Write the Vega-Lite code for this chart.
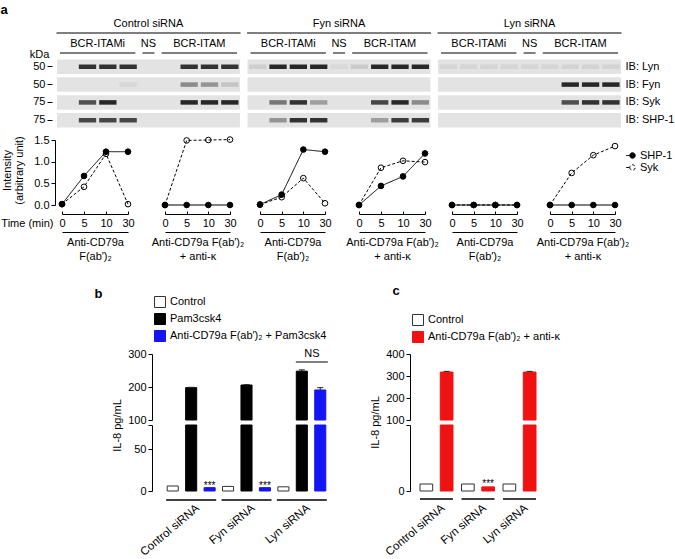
{
  "$schema": "https://vega.github.io/schema/vega-lite/v6.json",
  "width": 675,
  "height": 559,
  "autosize": {"type": "none"},
  "padding": 0,
  "background": "white",
  "config": {
    "font": "Liberation Sans",
    "view": {"stroke": null},
    "axis": {"labelFontSize": 11, "titleFontSize": 11, "titleFontWeight": "normal", "labelColor": "black", "titleColor": "black", "domainColor": "black", "tickColor": "black", "grid": false, "labelOverlap": false},
    "legend": {"labelFontSize": 11, "labelColor": "black", "padding": 0},
    "text": {"fontSize": 11, "color": "black"}
  },
  "datasets": {
    "blot": [
      {"si": "Control siRNA", "row": "Lyn"}, {"si": "Control siRNA", "row": "Fyn"}, {"si": "Control siRNA", "row": "Syk"}, {"si": "Control siRNA", "row": "SHP-1"},
      {"si": "Fyn siRNA", "row": "Lyn"}, {"si": "Fyn siRNA", "row": "Fyn"}, {"si": "Fyn siRNA", "row": "Syk"}, {"si": "Fyn siRNA", "row": "SHP-1"},
      {"si": "Lyn siRNA", "row": "Lyn"}, {"si": "Lyn siRNA", "row": "Fyn"}, {"si": "Lyn siRNA", "row": "Syk"}, {"si": "Lyn siRNA", "row": "SHP-1"}
    ],
    "lanes": [
      {"si": "Control siRNA", "lane": 0, "stim": "BCR-ITAMi"}, {"si": "Control siRNA", "lane": 1, "stim": "BCR-ITAMi"}, {"si": "Control siRNA", "lane": 2, "stim": "BCR-ITAMi"}, {"si": "Control siRNA", "lane": 3, "stim": "BCR-ITAMi"}, {"si": "Control siRNA", "lane": 4, "stim": "NS"}, {"si": "Control siRNA", "lane": 5, "stim": "BCR-ITAM"}, {"si": "Control siRNA", "lane": 6, "stim": "BCR-ITAM"}, {"si": "Control siRNA", "lane": 7, "stim": "BCR-ITAM"}, {"si": "Control siRNA", "lane": 8, "stim": "BCR-ITAM"},
      {"si": "Fyn siRNA", "lane": 0, "stim": "BCR-ITAMi"}, {"si": "Fyn siRNA", "lane": 1, "stim": "BCR-ITAMi"}, {"si": "Fyn siRNA", "lane": 2, "stim": "BCR-ITAMi"}, {"si": "Fyn siRNA", "lane": 3, "stim": "BCR-ITAMi"}, {"si": "Fyn siRNA", "lane": 4, "stim": "NS"}, {"si": "Fyn siRNA", "lane": 5, "stim": "BCR-ITAM"}, {"si": "Fyn siRNA", "lane": 6, "stim": "BCR-ITAM"}, {"si": "Fyn siRNA", "lane": 7, "stim": "BCR-ITAM"}, {"si": "Fyn siRNA", "lane": 8, "stim": "BCR-ITAM"},
      {"si": "Lyn siRNA", "lane": 0, "stim": "BCR-ITAMi"}, {"si": "Lyn siRNA", "lane": 1, "stim": "BCR-ITAMi"}, {"si": "Lyn siRNA", "lane": 2, "stim": "BCR-ITAMi"}, {"si": "Lyn siRNA", "lane": 3, "stim": "BCR-ITAMi"}, {"si": "Lyn siRNA", "lane": 4, "stim": "NS"}, {"si": "Lyn siRNA", "lane": 5, "stim": "BCR-ITAM"}, {"si": "Lyn siRNA", "lane": 6, "stim": "BCR-ITAM"}, {"si": "Lyn siRNA", "lane": 7, "stim": "BCR-ITAM"}, {"si": "Lyn siRNA", "lane": 8, "stim": "BCR-ITAM"}
    ],
    "bands": [
      {"si": "Control siRNA", "row": "Lyn", "lane": 1, "v": 0.9}, {"si": "Control siRNA", "row": "Lyn", "lane": 2, "v": 0.9}, {"si": "Control siRNA", "row": "Lyn", "lane": 3, "v": 0.9}, {"si": "Control siRNA", "row": "Lyn", "lane": 6, "v": 0.9}, {"si": "Control siRNA", "row": "Lyn", "lane": 7, "v": 0.9}, {"si": "Control siRNA", "row": "Lyn", "lane": 8, "v": 0.9},
      {"si": "Control siRNA", "row": "Fyn", "lane": 3, "v": 0.06}, {"si": "Control siRNA", "row": "Fyn", "lane": 6, "v": 0.45}, {"si": "Control siRNA", "row": "Fyn", "lane": 7, "v": 0.4}, {"si": "Control siRNA", "row": "Fyn", "lane": 8, "v": 0.15},
      {"si": "Control siRNA", "row": "Syk", "lane": 1, "v": 0.75}, {"si": "Control siRNA", "row": "Syk", "lane": 2, "v": 0.95}, {"si": "Control siRNA", "row": "Syk", "lane": 6, "v": 0.95}, {"si": "Control siRNA", "row": "Syk", "lane": 7, "v": 0.95}, {"si": "Control siRNA", "row": "Syk", "lane": 8, "v": 0.95},
      {"si": "Control siRNA", "row": "SHP-1", "lane": 1, "v": 0.8}, {"si": "Control siRNA", "row": "SHP-1", "lane": 2, "v": 0.8}, {"si": "Control siRNA", "row": "SHP-1", "lane": 3, "v": 0.8},
      {"si": "Fyn siRNA", "row": "Lyn", "lane": 0, "v": 0.1}, {"si": "Fyn siRNA", "row": "Lyn", "lane": 1, "v": 0.95}, {"si": "Fyn siRNA", "row": "Lyn", "lane": 2, "v": 0.95}, {"si": "Fyn siRNA", "row": "Lyn", "lane": 3, "v": 0.95}, {"si": "Fyn siRNA", "row": "Lyn", "lane": 4, "v": 0.05}, {"si": "Fyn siRNA", "row": "Lyn", "lane": 5, "v": 0.12}, {"si": "Fyn siRNA", "row": "Lyn", "lane": 6, "v": 0.95}, {"si": "Fyn siRNA", "row": "Lyn", "lane": 7, "v": 0.95}, {"si": "Fyn siRNA", "row": "Lyn", "lane": 8, "v": 0.95},
      {"si": "Fyn siRNA", "row": "Syk", "lane": 1, "v": 0.55}, {"si": "Fyn siRNA", "row": "Syk", "lane": 2, "v": 0.9}, {"si": "Fyn siRNA", "row": "Syk", "lane": 3, "v": 0.35}, {"si": "Fyn siRNA", "row": "Syk", "lane": 6, "v": 0.8}, {"si": "Fyn siRNA", "row": "Syk", "lane": 7, "v": 0.95}, {"si": "Fyn siRNA", "row": "Syk", "lane": 8, "v": 0.45},
      {"si": "Fyn siRNA", "row": "SHP-1", "lane": 1, "v": 0.4}, {"si": "Fyn siRNA", "row": "SHP-1", "lane": 2, "v": 0.9}, {"si": "Fyn siRNA", "row": "SHP-1", "lane": 3, "v": 0.9}, {"si": "Fyn siRNA", "row": "SHP-1", "lane": 6, "v": 0.35}, {"si": "Fyn siRNA", "row": "SHP-1", "lane": 7, "v": 0.85}, {"si": "Fyn siRNA", "row": "SHP-1", "lane": 8, "v": 0.85},
      {"si": "Lyn siRNA", "row": "Lyn", "lane": 0, "v": 0.07}, {"si": "Lyn siRNA", "row": "Lyn", "lane": 1, "v": 0.07}, {"si": "Lyn siRNA", "row": "Lyn", "lane": 2, "v": 0.07}, {"si": "Lyn siRNA", "row": "Lyn", "lane": 3, "v": 0.07}, {"si": "Lyn siRNA", "row": "Lyn", "lane": 4, "v": 0.07}, {"si": "Lyn siRNA", "row": "Lyn", "lane": 5, "v": 0.07}, {"si": "Lyn siRNA", "row": "Lyn", "lane": 6, "v": 0.08}, {"si": "Lyn siRNA", "row": "Lyn", "lane": 7, "v": 0.08}, {"si": "Lyn siRNA", "row": "Lyn", "lane": 8, "v": 0.08},
      {"si": "Lyn siRNA", "row": "Fyn", "lane": 6, "v": 0.95}, {"si": "Lyn siRNA", "row": "Fyn", "lane": 7, "v": 0.95}, {"si": "Lyn siRNA", "row": "Fyn", "lane": 8, "v": 0.95},
      {"si": "Lyn siRNA", "row": "Syk", "lane": 6, "v": 0.75}, {"si": "Lyn siRNA", "row": "Syk", "lane": 7, "v": 0.9}, {"si": "Lyn siRNA", "row": "Syk", "lane": 8, "v": 0.9}
    ],
    "lines": [
      {"si": "Control", "stim": "ITAMi", "p": "Syk", "t": 0, "v": 0.02}, {"si": "Control", "stim": "ITAMi", "p": "Syk", "t": 5, "v": 0.42}, {"si": "Control", "stim": "ITAMi", "p": "Syk", "t": 10, "v": 1.18}, {"si": "Control", "stim": "ITAMi", "p": "Syk", "t": 30, "v": 0.02},
      {"si": "Control", "stim": "ITAMi", "p": "SHP-1", "t": 0, "v": 0.02}, {"si": "Control", "stim": "ITAMi", "p": "SHP-1", "t": 5, "v": 0.67}, {"si": "Control", "stim": "ITAMi", "p": "SHP-1", "t": 10, "v": 1.23}, {"si": "Control", "stim": "ITAMi", "p": "SHP-1", "t": 30, "v": 1.23},
      {"si": "Control", "stim": "ITAM", "p": "Syk", "t": 0, "v": 0}, {"si": "Control", "stim": "ITAM", "p": "Syk", "t": 5, "v": 1.49}, {"si": "Control", "stim": "ITAM", "p": "Syk", "t": 10, "v": 1.5}, {"si": "Control", "stim": "ITAM", "p": "Syk", "t": 30, "v": 1.51},
      {"si": "Control", "stim": "ITAM", "p": "SHP-1", "t": 0, "v": 0}, {"si": "Control", "stim": "ITAM", "p": "SHP-1", "t": 5, "v": 0}, {"si": "Control", "stim": "ITAM", "p": "SHP-1", "t": 10, "v": 0}, {"si": "Control", "stim": "ITAM", "p": "SHP-1", "t": 30, "v": 0},
      {"si": "Fyn", "stim": "ITAMi", "p": "Syk", "t": 0, "v": 0.01}, {"si": "Fyn", "stim": "ITAMi", "p": "Syk", "t": 5, "v": 0.18}, {"si": "Fyn", "stim": "ITAMi", "p": "Syk", "t": 10, "v": 0.62}, {"si": "Fyn", "stim": "ITAMi", "p": "Syk", "t": 30, "v": 0.04},
      {"si": "Fyn", "stim": "ITAMi", "p": "SHP-1", "t": 0, "v": 0.01}, {"si": "Fyn", "stim": "ITAMi", "p": "SHP-1", "t": 5, "v": 0.24}, {"si": "Fyn", "stim": "ITAMi", "p": "SHP-1", "t": 10, "v": 1.28}, {"si": "Fyn", "stim": "ITAMi", "p": "SHP-1", "t": 30, "v": 1.23},
      {"si": "Fyn", "stim": "ITAM", "p": "Syk", "t": 0, "v": 0}, {"si": "Fyn", "stim": "ITAM", "p": "Syk", "t": 5, "v": 0.86}, {"si": "Fyn", "stim": "ITAM", "p": "Syk", "t": 10, "v": 1.02}, {"si": "Fyn", "stim": "ITAM", "p": "Syk", "t": 30, "v": 0.99},
      {"si": "Fyn", "stim": "ITAM", "p": "SHP-1", "t": 0, "v": 0}, {"si": "Fyn", "stim": "ITAM", "p": "SHP-1", "t": 5, "v": 0.44}, {"si": "Fyn", "stim": "ITAM", "p": "SHP-1", "t": 10, "v": 0.66}, {"si": "Fyn", "stim": "ITAM", "p": "SHP-1", "t": 30, "v": 1.19},
      {"si": "Lyn", "stim": "ITAMi", "p": "Syk", "t": 0, "v": 0}, {"si": "Lyn", "stim": "ITAMi", "p": "Syk", "t": 5, "v": 0}, {"si": "Lyn", "stim": "ITAMi", "p": "Syk", "t": 10, "v": 0}, {"si": "Lyn", "stim": "ITAMi", "p": "Syk", "t": 30, "v": 0},
      {"si": "Lyn", "stim": "ITAMi", "p": "SHP-1", "t": 0, "v": 0}, {"si": "Lyn", "stim": "ITAMi", "p": "SHP-1", "t": 5, "v": 0}, {"si": "Lyn", "stim": "ITAMi", "p": "SHP-1", "t": 10, "v": 0}, {"si": "Lyn", "stim": "ITAMi", "p": "SHP-1", "t": 30, "v": 0},
      {"si": "Lyn", "stim": "ITAM", "p": "Syk", "t": 0, "v": 0}, {"si": "Lyn", "stim": "ITAM", "p": "Syk", "t": 5, "v": 0.74}, {"si": "Lyn", "stim": "ITAM", "p": "Syk", "t": 10, "v": 1.15}, {"si": "Lyn", "stim": "ITAM", "p": "Syk", "t": 30, "v": 1.36},
      {"si": "Lyn", "stim": "ITAM", "p": "SHP-1", "t": 0, "v": 0}, {"si": "Lyn", "stim": "ITAM", "p": "SHP-1", "t": 5, "v": 0}, {"si": "Lyn", "stim": "ITAM", "p": "SHP-1", "t": 10, "v": 0}, {"si": "Lyn", "stim": "ITAM", "p": "SHP-1", "t": 30, "v": 0}
    ],
    "il8b": [
      {"si": "Control siRNA", "trt": "Control", "v": 6},
      {"si": "Control siRNA", "trt": "Pam3csk4", "v": 198, "hi": 199},
      {"si": "Control siRNA", "trt": "Anti-CD79a F(ab′)₂ + Pam3csk4", "v": 4, "sig": "***"},
      {"si": "Fyn siRNA", "trt": "Control", "v": 5.5},
      {"si": "Fyn siRNA", "trt": "Pam3csk4", "v": 206, "hi": 207},
      {"si": "Fyn siRNA", "trt": "Anti-CD79a F(ab′)₂ + Pam3csk4", "v": 4, "sig": "***"},
      {"si": "Lyn siRNA", "trt": "Control", "v": 5},
      {"si": "Lyn siRNA", "trt": "Pam3csk4", "v": 248, "hi": 252},
      {"si": "Lyn siRNA", "trt": "Anti-CD79a F(ab′)₂ + Pam3csk4", "v": 191, "hi": 198}
    ],
    "il8c": [
      {"si": "Control siRNA", "trt": "Control", "v": 8.5},
      {"si": "Control siRNA", "trt": "Anti-CD79a F(ab′)₂ + anti-κ", "v": 318, "hi": 321},
      {"si": "Fyn siRNA", "trt": "Control", "v": 8.5},
      {"si": "Fyn siRNA", "trt": "Anti-CD79a F(ab′)₂ + anti-κ", "v": 5, "sig": "***"},
      {"si": "Lyn siRNA", "trt": "Control", "v": 8.5},
      {"si": "Lyn siRNA", "trt": "Anti-CD79a F(ab′)₂ + anti-κ", "v": 318, "hi": 321}
    ],
    "groups": [{"si": "Control siRNA"}, {"si": "Fyn siRNA"}, {"si": "Lyn siRNA"}],
    "nsb": [{"si": "Lyn siRNA", "label": "NS"}]
  },
  "layer": [
    {
      "data": {"name": "blot"},
      "mark": {"type": "rect", "fill": "#e3e3e3"},
      "encoding": {
        "x": {"field": "si", "type": "nominal", "scale": {"type": "band", "domain": ["Control siRNA", "Fyn siRNA", "Lyn siRNA"], "range": [57, 621], "paddingInner": 0.04, "paddingOuter": 0},
          "axis": {"orient": "top", "offset": -30, "domain": false, "ticks": false, "labelPadding": 2, "labelAngle": 0, "title": "a", "titleX": 0, "titleY": -17, "titleAlign": "left", "titleBaseline": "alphabetic", "titleAngle": 0, "titleFontWeight": "bold", "titleFontSize": 13}},
        "y": {"field": "row", "type": "nominal", "scale": {"type": "band", "domain": ["Lyn", "Fyn", "Syk", "SHP-1"], "range": [59.5, 127.5], "paddingInner": 0.185, "paddingOuter": 0},
          "axis": {"orient": "left", "offset": -52, "domain": false, "tickSize": 5, "labelPadding": 2, "labelExpr": "datum.label == 'Lyn' || datum.label == 'Fyn' ? '50' : '75'", "title": "kDa", "titleAngle": 0, "titleX": -13, "titleY": 57, "titleAlign": "center", "titleBaseline": "alphabetic"}}
      }
    },
    {
      "data": {"name": "bands"},
      "mark": {"type": "point", "shape": "M-1,-0.26L1,-0.26L1,0.26L-1,0.26Z", "filled": true, "fill": "#1e1e1e", "size": 300, "strokeWidth": 0},
      "encoding": {
        "x": {"field": "si", "type": "nominal", "scale": {"type": "band", "domain": ["Control siRNA", "Fyn siRNA", "Lyn siRNA"], "range": [57, 621], "paddingInner": 0.04, "paddingOuter": 0}, "axis": null},
        "xOffset": {"field": "lane", "type": "quantitative", "scale": {"domain": [-0.5, 8.5], "range": [0, 183]}},
        "y": {"field": "row", "type": "nominal", "scale": {"type": "band", "domain": ["Lyn", "Fyn", "Syk", "SHP-1"], "range": [59.5, 127.5], "paddingInner": 0.185, "paddingOuter": 0},
          "axis": {"orient": "right", "offset": -53, "domain": false, "ticks": false, "labelPadding": 3, "labelExpr": "'IB: ' + datum.label", "title": null}},
        "opacity": {"field": "v", "type": "quantitative", "scale": {"domain": [0, 1], "range": [0, 1]}, "legend": null}
      }
    },
    {
      "data": {"name": "lanes"},
      "mark": {"type": "text", "baseline": "middle", "dy": 1},
      "encoding": {
        "x": {"field": "si", "type": "nominal", "scale": {"type": "band", "domain": ["Control siRNA", "Fyn siRNA", "Lyn siRNA"], "range": [57, 621], "paddingInner": 0.04, "paddingOuter": 0}, "axis": null},
        "xOffset": {"field": "lane", "aggregate": "mean", "type": "quantitative", "scale": {"domain": [-0.5, 8.5], "range": [0, 183]}},
        "y": {"datum": "sub", "type": "nominal", "scale": {"type": "point", "domain": ["title", "titleLine", "sub", "subLine"], "range": [23, 53], "padding": 0}, "axis": null},
        "text": {"field": "stim", "type": "nominal"}
      }
    },
    {
      "data": {"name": "lanes"},
      "mark": {"type": "tick", "orient": "horizontal", "thickness": 1, "color": "black", "opacity": 1},
      "encoding": {
        "x": {"field": "si", "type": "nominal", "scale": {"type": "band", "domain": ["Control siRNA", "Fyn siRNA", "Lyn siRNA"], "range": [57, 621], "paddingInner": 0.04, "paddingOuter": 0}, "axis": null},
        "xOffset": {"field": "lane", "aggregate": "mean", "type": "quantitative", "scale": {"domain": [-0.5, 8.5], "range": [0, 183]}},
        "y": {"datum": "subLine", "type": "nominal", "scale": {"type": "point", "domain": ["title", "titleLine", "sub", "subLine"], "range": [23, 53], "padding": 0}, "axis": null},
        "size": {"aggregate": "count", "type": "quantitative", "scale": {"domain": [1, 9], "range": [12, 181], "zero": false}, "legend": null},
        "detail": {"field": "stim", "type": "nominal"}
      }
    },
    {
      "data": {"name": "lanes"},
      "mark": {"type": "tick", "orient": "horizontal", "thickness": 1, "color": "black", "opacity": 1},
      "encoding": {
        "x": {"field": "si", "type": "nominal", "scale": {"type": "band", "domain": ["Control siRNA", "Fyn siRNA", "Lyn siRNA"], "range": [57, 621], "paddingInner": 0.04, "paddingOuter": 0}, "axis": null},
        "xOffset": {"field": "lane", "aggregate": "mean", "type": "quantitative", "scale": {"domain": [-0.5, 8.5], "range": [0, 183]}},
        "y": {"datum": "titleLine", "type": "nominal", "scale": {"type": "point", "domain": ["title", "titleLine", "sub", "subLine"], "range": [23, 53], "padding": 0}, "axis": null},
        "size": {"aggregate": "count", "type": "quantitative", "scale": {"domain": [1, 9], "range": [12, 184], "zero": false}, "legend": null}
      }
    },
    {
      "data": {"name": "lines"},
      "transform": [{"filter": "datum.si == 'Control' && datum.stim == 'ITAMi'"}],
      "layer": [
        {"mark": {"type": "point", "filled": true, "size": 32, "stroke": "black", "strokeWidth": 1, "opacity": 1},
         "encoding": {
           "x": {"field": "t", "type": "ordinal", "scale": {"type": "point", "domain": [0, 5, 10, 30], "range": [62, 128], "padding": 0}, "axis": {"orient": "bottom", "offset": -345, "tickSize": -3, "labelPadding": 6, "labelAngle": 0, "title": "Time (min)", "titleX": 53, "titleY": 9, "titleAlign": "right", "titleBaseline": "middle", "titleAngle": 0}},
           "y": {"field": "v", "type": "quantitative", "scale": {"domain": [0, 1.5], "range": [205, 140]}, "axis": {"orient": "left", "offset": -55, "values": [0, 0.5, 1, 1.5], "format": ".1f", "tickSize": 4, "labelPadding": 2, "title": ["Intensity", "(arbitrary unit)"], "titleX": -45, "titleY": 170, "titleAngle": -90, "titleAlign": "center", "titleBaseline": "alphabetic", "titleLineHeight": 12}},
           "fill": {"field": "p", "type": "nominal", "scale": {"domain": ["SHP-1", "Syk"], "range": ["black", "white"]}, "legend": null}}},
        {"mark": {"type": "line", "color": "black", "strokeWidth": 1},
         "encoding": {
           "x": {"field": "t", "type": "ordinal", "scale": {"type": "point", "domain": [0, 5, 10, 30], "range": [62, 128], "padding": 0}, "axis": {"orient": "bottom", "offset": -327, "ticks": false, "labels": false, "title": ["Anti-CD79a", "F(ab′)₂"], "titlePadding": 4, "titleLineHeight": 14}},
           "y": {"field": "v", "type": "quantitative", "scale": {"domain": [0, 1.5], "range": [205, 140]}, "axis": null},
           "strokeDash": {"field": "p", "type": "nominal", "scale": {"domain": ["SHP-1", "Syk"], "range": [[1, 0], [3, 2]]}, "legend": null}}}
      ],
      "resolve": {"axis": {"x": "independent", "y": "independent"}}
    },
    {
      "data": {"name": "lines"},
      "transform": [{"filter": "datum.si == 'Control' && datum.stim == 'ITAM'"}],
      "layer": [
        {"mark": {"type": "point", "filled": true, "size": 32, "stroke": "black", "strokeWidth": 1, "opacity": 1},
         "encoding": {
           "x": {"field": "t", "type": "ordinal", "scale": {"type": "point", "domain": [0, 5, 10, 30], "range": [165, 230], "padding": 0}, "axis": {"orient": "bottom", "offset": -345, "tickSize": -3, "labelPadding": 6, "labelAngle": 0, "title": null}},
           "y": {"field": "v", "type": "quantitative", "scale": {"domain": [0, 1.5], "range": [205, 140]}, "axis": null},
           "fill": {"field": "p", "type": "nominal", "scale": {"domain": ["SHP-1", "Syk"], "range": ["black", "white"]}, "legend": null}}},
        {"mark": {"type": "line", "color": "black", "strokeWidth": 1},
         "encoding": {
           "x": {"field": "t", "type": "ordinal", "scale": {"type": "point", "domain": [0, 5, 10, 30], "range": [165, 230], "padding": 0}, "axis": {"orient": "bottom", "offset": -327, "ticks": false, "labels": false, "title": ["Anti-CD79a F(ab′)₂", "+ anti-κ"], "titlePadding": 4, "titleLineHeight": 14}},
           "y": {"field": "v", "type": "quantitative", "scale": {"domain": [0, 1.5], "range": [205, 140]}, "axis": null},
           "strokeDash": {"field": "p", "type": "nominal", "scale": {"domain": ["SHP-1", "Syk"], "range": [[1, 0], [3, 2]]}, "legend": null}}}
      ],
      "resolve": {"axis": {"x": "independent"}}
    },
    {
      "data": {"name": "lines"},
      "transform": [{"filter": "datum.si == 'Fyn' && datum.stim == 'ITAMi'"}],
      "layer": [
        {"mark": {"type": "point", "filled": true, "size": 32, "stroke": "black", "strokeWidth": 1, "opacity": 1},
         "encoding": {
           "x": {"field": "t", "type": "ordinal", "scale": {"type": "point", "domain": [0, 5, 10, 30], "range": [260, 325], "padding": 0}, "axis": {"orient": "bottom", "offset": -345, "tickSize": -3, "labelPadding": 6, "labelAngle": 0, "title": null}},
           "y": {"field": "v", "type": "quantitative", "scale": {"domain": [0, 1.5], "range": [205, 140]}, "axis": null},
           "fill": {"field": "p", "type": "nominal", "scale": {"domain": ["SHP-1", "Syk"], "range": ["black", "white"]}, "legend": null}}},
        {"mark": {"type": "line", "color": "black", "strokeWidth": 1},
         "encoding": {
           "x": {"field": "t", "type": "ordinal", "scale": {"type": "point", "domain": [0, 5, 10, 30], "range": [260, 325], "padding": 0}, "axis": {"orient": "bottom", "offset": -327, "ticks": false, "labels": false, "title": ["Anti-CD79a", "F(ab′)₂"], "titlePadding": 4, "titleLineHeight": 14}},
           "y": {"field": "v", "type": "quantitative", "scale": {"domain": [0, 1.5], "range": [205, 140]}, "axis": null},
           "strokeDash": {"field": "p", "type": "nominal", "scale": {"domain": ["SHP-1", "Syk"], "range": [[1, 0], [3, 2]]}, "legend": null}}}
      ],
      "resolve": {"axis": {"x": "independent"}}
    },
    {
      "data": {"name": "lines"},
      "transform": [{"filter": "datum.si == 'Fyn' && datum.stim == 'ITAM'"}],
      "layer": [
        {"mark": {"type": "point", "filled": true, "size": 32, "stroke": "black", "strokeWidth": 1, "opacity": 1},
         "encoding": {
           "x": {"field": "t", "type": "ordinal", "scale": {"type": "point", "domain": [0, 5, 10, 30], "range": [359, 425], "padding": 0}, "axis": {"orient": "bottom", "offset": -345, "tickSize": -3, "labelPadding": 6, "labelAngle": 0, "title": null}},
           "y": {"field": "v", "type": "quantitative", "scale": {"domain": [0, 1.5], "range": [205, 140]}, "axis": null},
           "fill": {"field": "p", "type": "nominal", "scale": {"domain": ["SHP-1", "Syk"], "range": ["black", "white"]}, "legend": null}}},
        {"mark": {"type": "line", "color": "black", "strokeWidth": 1},
         "encoding": {
           "x": {"field": "t", "type": "ordinal", "scale": {"type": "point", "domain": [0, 5, 10, 30], "range": [359, 425], "padding": 0}, "axis": {"orient": "bottom", "offset": -327, "ticks": false, "labels": false, "title": ["Anti-CD79a F(ab′)₂", "+ anti-κ"], "titlePadding": 4, "titleLineHeight": 14}},
           "y": {"field": "v", "type": "quantitative", "scale": {"domain": [0, 1.5], "range": [205, 140]}, "axis": null},
           "strokeDash": {"field": "p", "type": "nominal", "scale": {"domain": ["SHP-1", "Syk"], "range": [[1, 0], [3, 2]]}, "legend": null}}}
      ],
      "resolve": {"axis": {"x": "independent"}}
    },
    {
      "data": {"name": "lines"},
      "transform": [{"filter": "datum.si == 'Lyn' && datum.stim == 'ITAMi'"}],
      "layer": [
        {"mark": {"type": "point", "filled": true, "size": 32, "stroke": "black", "strokeWidth": 1, "opacity": 1},
         "encoding": {
           "x": {"field": "t", "type": "ordinal", "scale": {"type": "point", "domain": [0, 5, 10, 30], "range": [452, 517], "padding": 0}, "axis": {"orient": "bottom", "offset": -345, "tickSize": -3, "labelPadding": 6, "labelAngle": 0, "title": null}},
           "y": {"field": "v", "type": "quantitative", "scale": {"domain": [0, 1.5], "range": [205, 140]}, "axis": null},
           "fill": {"field": "p", "type": "nominal", "scale": {"domain": ["SHP-1", "Syk"], "range": ["black", "white"]}, "legend": null}}},
        {"mark": {"type": "line", "color": "black", "strokeWidth": 1},
         "encoding": {
           "x": {"field": "t", "type": "ordinal", "scale": {"type": "point", "domain": [0, 5, 10, 30], "range": [452, 517], "padding": 0}, "axis": {"orient": "bottom", "offset": -327, "ticks": false, "labels": false, "title": ["Anti-CD79a", "F(ab′)₂"], "titlePadding": 4, "titleLineHeight": 14}},
           "y": {"field": "v", "type": "quantitative", "scale": {"domain": [0, 1.5], "range": [205, 140]}, "axis": null},
           "strokeDash": {"field": "p", "type": "nominal", "scale": {"domain": ["SHP-1", "Syk"], "range": [[1, 0], [3, 2]]}, "legend": null}}}
      ],
      "resolve": {"axis": {"x": "independent"}}
    },
    {
      "data": {"name": "lines"},
      "transform": [{"filter": "datum.si == 'Lyn' && datum.stim == 'ITAM'"}],
      "layer": [
        {"mark": {"type": "point", "filled": true, "size": 32, "stroke": "black", "strokeWidth": 1, "opacity": 1},
         "encoding": {
           "x": {"field": "t", "type": "ordinal", "scale": {"type": "point", "domain": [0, 5, 10, 30], "range": [550, 615], "padding": 0}, "axis": {"orient": "bottom", "offset": -345, "tickSize": -3, "labelPadding": 6, "labelAngle": 0, "title": null}},
           "y": {"field": "v", "type": "quantitative", "scale": {"domain": [0, 1.5], "range": [205, 140]}, "axis": null},
           "fill": {"field": "p", "type": "nominal", "scale": {"domain": ["SHP-1", "Syk"], "range": ["black", "white"]},
             "legend": {"orient": "none", "legendX": 627, "legendY": 150, "title": null, "symbolType": "M-2.3,0L-1,0M-1,0A1,1,0,1,0,1,0A1,1,0,1,0,-1,0Z", "symbolSize": 30, "symbolStrokeColor": "black", "symbolStrokeWidth": 1, "labelOffset": 2, "rowPadding": 0}}}},
        {"mark": {"type": "line", "color": "black", "strokeWidth": 1},
         "encoding": {
           "x": {"field": "t", "type": "ordinal", "scale": {"type": "point", "domain": [0, 5, 10, 30], "range": [550, 615], "padding": 0}, "axis": {"orient": "bottom", "offset": -327, "ticks": false, "labels": false, "title": ["Anti-CD79a F(ab′)₂", "+ anti-κ"], "titlePadding": 4, "titleLineHeight": 14}},
           "y": {"field": "v", "type": "quantitative", "scale": {"domain": [0, 1.5], "range": [205, 140]}, "axis": null},
           "strokeDash": {"field": "p", "type": "nominal", "scale": {"domain": ["SHP-1", "Syk"], "range": [[1, 0], [3, 2]]}, "legend": null}}}
      ],
      "resolve": {"axis": {"x": "independent"}}
    },
    {
      "layer": [
        {
          "data": {"name": "il8b"},
          "transform": [{"filter": "datum.v > 100"}],
          "mark": {"type": "bar", "strokeWidth": 1},
          "encoding": {
            "x": {"field": "si", "type": "nominal", "scale": {"type": "band", "domain": ["Control siRNA", "Fyn siRNA", "Lyn siRNA"], "range": [166, 327], "paddingInner": 0.09, "paddingOuter": 0}, "axis": null},
            "xOffset": {"field": "trt", "type": "nominal", "scale": {"domain": ["Control", "Pam3csk4", "Anti-CD79a F(ab′)₂ + Pam3csk4"], "paddingInner": 0.4, "paddingOuter": 0.065}},
            "y": {"field": "v", "type": "quantitative", "scale": {"domain": [100, 300], "range": [420, 354], "clamp": true}, "axis": {"orient": "left", "offset": -152, "values": [100, 200, 300], "tickSize": 4, "labelPadding": 2, "title": null}},
            "y2": {"datum": 0},
            "fill": {"field": "trt", "type": "nominal", "scale": {"domain": ["Control", "Pam3csk4", "Anti-CD79a F(ab′)₂ + Pam3csk4"], "range": ["white", "black", "#1414f5"]},
              "legend": {"orient": "none", "legendX": 154, "legendY": 296, "title": null, "symbolType": "square", "symbolSize": 121, "symbolStrokeColor": "#333", "symbolStrokeWidth": 1, "labelOffset": 4, "rowPadding": 1}},
            "stroke": {"field": "trt", "type": "nominal", "scale": {"domain": ["Control", "Pam3csk4", "Anti-CD79a F(ab′)₂ + Pam3csk4"], "range": ["#333", "black", "#1414f5"]}, "legend": null}
          }
        },
        {
          "data": {"name": "il8b"},
          "mark": {"type": "bar", "strokeWidth": 1},
          "encoding": {
            "x": {"field": "si", "type": "nominal", "scale": {"type": "band", "domain": ["Control siRNA", "Fyn siRNA", "Lyn siRNA"], "range": [166, 327], "paddingInner": 0.09, "paddingOuter": 0},
              "axis": {"orient": "top", "offset": 0, "labels": false, "ticks": false, "domain": false, "title": "b", "titleX": 94, "titleY": 297, "titleAlign": "left", "titleBaseline": "alphabetic", "titleAngle": 0, "titleFontWeight": "bold", "titleFontSize": 13}},
            "xOffset": {"field": "trt", "type": "nominal", "scale": {"domain": ["Control", "Pam3csk4", "Anti-CD79a F(ab′)₂ + Pam3csk4"], "paddingInner": 0.4, "paddingOuter": 0.065}},
            "y": {"field": "v", "type": "quantitative", "scale": {"domain": [0, 79], "range": [491, 425], "clamp": true}, "axis": {"orient": "left", "offset": -152, "values": [0, 50, 79], "labelExpr": "datum.value == 79 ? '' : datum.label", "tickSize": 4, "labelPadding": 2, "title": "IL-8 pg/mL", "titleX": -32, "titleY": 425, "titleAngle": -90, "titleAlign": "center", "titleBaseline": "alphabetic"}},
            "fill": {"field": "trt", "type": "nominal", "scale": {"domain": ["Control", "Pam3csk4", "Anti-CD79a F(ab′)₂ + Pam3csk4"], "range": ["white", "black", "#1414f5"]}, "legend": null},
            "stroke": {"field": "trt", "type": "nominal", "scale": {"domain": ["Control", "Pam3csk4", "Anti-CD79a F(ab′)₂ + Pam3csk4"], "range": ["#333", "black", "#0a0ab0"]}, "legend": null}
          }
        },
        {
          "data": {"name": "il8b"},
          "transform": [{"filter": "datum.hi"}],
          "mark": {"type": "rule", "color": "#222", "strokeWidth": 1},
          "encoding": {
            "x": {"field": "si", "type": "nominal", "scale": {"type": "band", "domain": ["Control siRNA", "Fyn siRNA", "Lyn siRNA"], "range": [166, 327], "paddingInner": 0.09, "paddingOuter": 0}, "axis": null},
            "xOffset": {"field": "trt", "type": "nominal", "scale": {"domain": ["Control", "Pam3csk4", "Anti-CD79a F(ab′)₂ + Pam3csk4"], "paddingInner": 0.4, "paddingOuter": 0.065}},
            "y": {"field": "v", "type": "quantitative", "scale": {"domain": [100, 300], "range": [420, 354], "clamp": true}, "axis": null},
            "y2": {"field": "hi"}
          }
        },
        {
          "data": {"name": "il8b"},
          "transform": [{"filter": "datum.hi"}],
          "mark": {"type": "tick", "orient": "horizontal", "color": "#222", "thickness": 1, "size": 6, "opacity": 1},
          "encoding": {
            "x": {"field": "si", "type": "nominal", "scale": {"type": "band", "domain": ["Control siRNA", "Fyn siRNA", "Lyn siRNA"], "range": [166, 327], "paddingInner": 0.09, "paddingOuter": 0}, "axis": null},
            "xOffset": {"field": "trt", "type": "nominal", "scale": {"domain": ["Control", "Pam3csk4", "Anti-CD79a F(ab′)₂ + Pam3csk4"], "paddingInner": 0.4, "paddingOuter": 0.065}},
            "y": {"field": "hi", "type": "quantitative", "scale": {"domain": [100, 300], "range": [420, 354], "clamp": true}, "axis": null}
          }
        },
        {
          "data": {"name": "il8b"},
          "transform": [{"filter": "datum.sig"}],
          "mark": {"type": "text", "fontSize": 10, "baseline": "alphabetic", "dy": 1},
          "encoding": {
            "x": {"field": "si", "type": "nominal", "scale": {"type": "band", "domain": ["Control siRNA", "Fyn siRNA", "Lyn siRNA"], "range": [166, 327], "paddingInner": 0.09, "paddingOuter": 0}, "axis": null},
            "xOffset": {"field": "trt", "type": "nominal", "scale": {"domain": ["Control", "Pam3csk4", "Anti-CD79a F(ab′)₂ + Pam3csk4"], "paddingInner": 0.4, "paddingOuter": 0.065}},
            "y": {"field": "v", "type": "quantitative", "scale": {"domain": [0, 79], "range": [491, 425]}, "axis": null},
            "text": {"field": "sig", "type": "nominal"}
          }
        },
        {
          "data": {"name": "nsb"},
          "mark": {"type": "text", "baseline": "middle", "dx": 10},
          "encoding": {
            "x": {"field": "si", "type": "nominal", "scale": {"type": "band", "domain": ["Control siRNA", "Fyn siRNA", "Lyn siRNA"], "range": [166, 327], "paddingInner": 0.09, "paddingOuter": 0}, "axis": null},
            "y": {"datum": 300, "type": "quantitative", "scale": {"domain": [100, 300], "range": [420, 354]}, "axis": null},
            "text": {"field": "label", "type": "nominal"}
          }
        },
        {
          "data": {"name": "nsb"},
          "mark": {"type": "tick", "orient": "horizontal", "color": "black", "thickness": 1, "size": 32, "xOffset": 10, "opacity": 1},
          "encoding": {
            "x": {"field": "si", "type": "nominal", "scale": {"type": "band", "domain": ["Control siRNA", "Fyn siRNA", "Lyn siRNA"], "range": [166, 327], "paddingInner": 0.09, "paddingOuter": 0}, "axis": null},
            "y": {"datum": 276, "type": "quantitative", "scale": {"domain": [100, 300], "range": [420, 354]}, "axis": null}
          }
        },
        {
          "data": {"name": "groups"},
          "mark": {"type": "tick", "orient": "horizontal", "color": "black", "thickness": 1.5, "size": 50, "yOffset": 9, "opacity": 1},
          "encoding": {
            "x": {"field": "si", "type": "nominal", "scale": {"type": "band", "domain": ["Control siRNA", "Fyn siRNA", "Lyn siRNA"], "range": [166, 327], "paddingInner": 0.09, "paddingOuter": 0},
              "axis": {"orient": "bottom", "offset": -59, "domain": false, "ticks": false, "labelAngle": -40, "labelFontSize": 11.5, "labelPadding": 2, "labelOffset": 3, "title": null}},
            "y": {"datum": 0, "type": "quantitative", "scale": {"domain": [0, 79], "range": [491, 425]}, "axis": null}
          }
        }
      ],
      "resolve": {"scale": {"y": "independent"}, "axis": {"x": "independent"}}
    },
    {
      "layer": [
        {
          "data": {"name": "il8c"},
          "transform": [{"filter": "datum.v > 100"}],
          "mark": {"type": "bar", "strokeWidth": 1},
          "encoding": {
            "x": {"field": "si", "type": "nominal", "scale": {"type": "band", "domain": ["Control siRNA", "Fyn siRNA", "Lyn siRNA"], "range": [420, 536], "paddingInner": 0.205, "paddingOuter": 0}, "axis": null},
            "xOffset": {"field": "trt", "type": "nominal", "scale": {"domain": ["Control", "Anti-CD79a F(ab′)₂ + anti-κ"], "paddingInner": 0.375, "paddingOuter": 0}},
            "y": {"field": "v", "type": "quantitative", "scale": {"domain": [100, 400], "range": [420, 354], "clamp": true}, "axis": {"orient": "left", "offset": -410, "values": [100, 200, 300, 400], "tickSize": 4, "labelPadding": 2, "title": null}},
            "y2": {"datum": 0},
            "fill": {"field": "trt", "type": "nominal", "scale": {"domain": ["Control", "Anti-CD79a F(ab′)₂ + anti-κ"], "range": ["white", "#f01212"]},
              "legend": {"orient": "none", "legendX": 412, "legendY": 314, "title": null, "symbolType": "square", "symbolSize": 121, "symbolStrokeColor": "#333", "symbolStrokeWidth": 1, "labelOffset": 4, "rowPadding": 1}},
            "stroke": {"field": "trt", "type": "nominal", "scale": {"domain": ["Control", "Anti-CD79a F(ab′)₂ + anti-κ"], "range": ["#333", "#f01212"]}, "legend": null}
          }
        },
        {
          "data": {"name": "il8c"},
          "mark": {"type": "bar", "strokeWidth": 1},
          "encoding": {
            "x": {"field": "si", "type": "nominal", "scale": {"type": "band", "domain": ["Control siRNA", "Fyn siRNA", "Lyn siRNA"], "range": [420, 536], "paddingInner": 0.205, "paddingOuter": 0},
              "axis": {"orient": "top", "offset": 0, "labels": false, "ticks": false, "domain": false, "title": "c", "titleX": 392, "titleY": 294, "titleAlign": "left", "titleBaseline": "alphabetic", "titleAngle": 0, "titleFontWeight": "bold", "titleFontSize": 13}},
            "xOffset": {"field": "trt", "type": "nominal", "scale": {"domain": ["Control", "Anti-CD79a F(ab′)₂ + anti-κ"], "paddingInner": 0.375, "paddingOuter": 0}},
            "y": {"field": "v", "type": "quantitative", "scale": {"domain": [0, 80], "range": [491, 425], "clamp": true}, "axis": {"orient": "left", "offset": -410, "values": [0, 80], "labelExpr": "datum.value == 80 ? '' : datum.label", "tickSize": 4, "labelPadding": 2, "title": "IL-8 pg/mL", "titleX": -32, "titleY": 422, "titleAngle": -90, "titleAlign": "center", "titleBaseline": "alphabetic"}},
            "fill": {"field": "trt", "type": "nominal", "scale": {"domain": ["Control", "Anti-CD79a F(ab′)₂ + anti-κ"], "range": ["white", "#f01212"]}, "legend": null},
            "stroke": {"field": "trt", "type": "nominal", "scale": {"domain": ["Control", "Anti-CD79a F(ab′)₂ + anti-κ"], "range": ["#333", "#c00000"]}, "legend": null}
          }
        },
        {
          "data": {"name": "il8c"},
          "transform": [{"filter": "datum.hi"}],
          "mark": {"type": "rule", "color": "#222", "strokeWidth": 1},
          "encoding": {
            "x": {"field": "si", "type": "nominal", "scale": {"type": "band", "domain": ["Control siRNA", "Fyn siRNA", "Lyn siRNA"], "range": [420, 536], "paddingInner": 0.205, "paddingOuter": 0}, "axis": null},
            "xOffset": {"field": "trt", "type": "nominal", "scale": {"domain": ["Control", "Anti-CD79a F(ab′)₂ + anti-κ"], "paddingInner": 0.375, "paddingOuter": 0}},
            "y": {"field": "v", "type": "quantitative", "scale": {"domain": [100, 400], "range": [420, 354], "clamp": true}, "axis": null},
            "y2": {"field": "hi"}
          }
        },
        {
          "data": {"name": "il8c"},
          "transform": [{"filter": "datum.hi"}],
          "mark": {"type": "tick", "orient": "horizontal", "color": "#222", "thickness": 1, "size": 6, "opacity": 1},
          "encoding": {
            "x": {"field": "si", "type": "nominal", "scale": {"type": "band", "domain": ["Control siRNA", "Fyn siRNA", "Lyn siRNA"], "range": [420, 536], "paddingInner": 0.205, "paddingOuter": 0}, "axis": null},
            "xOffset": {"field": "trt", "type": "nominal", "scale": {"domain": ["Control", "Anti-CD79a F(ab′)₂ + anti-κ"], "paddingInner": 0.375, "paddingOuter": 0}},
            "y": {"field": "hi", "type": "quantitative", "scale": {"domain": [100, 400], "range": [420, 354], "clamp": true}, "axis": null}
          }
        },
        {
          "data": {"name": "il8c"},
          "transform": [{"filter": "datum.sig"}],
          "mark": {"type": "text", "fontSize": 10, "baseline": "alphabetic", "dy": 0},
          "encoding": {
            "x": {"field": "si", "type": "nominal", "scale": {"type": "band", "domain": ["Control siRNA", "Fyn siRNA", "Lyn siRNA"], "range": [420, 536], "paddingInner": 0.205, "paddingOuter": 0}, "axis": null},
            "xOffset": {"field": "trt", "type": "nominal", "scale": {"domain": ["Control", "Anti-CD79a F(ab′)₂ + anti-κ"], "paddingInner": 0.375, "paddingOuter": 0}},
            "y": {"field": "v", "type": "quantitative", "scale": {"domain": [0, 80], "range": [491, 425]}, "axis": null},
            "text": {"field": "sig", "type": "nominal"}
          }
        },
        {
          "data": {"name": "groups"},
          "mark": {"type": "tick", "orient": "horizontal", "color": "black", "thickness": 1.5, "size": 33, "yOffset": 8, "opacity": 1},
          "encoding": {
            "x": {"field": "si", "type": "nominal", "scale": {"type": "band", "domain": ["Control siRNA", "Fyn siRNA", "Lyn siRNA"], "range": [420, 536], "paddingInner": 0.205, "paddingOuter": 0},
              "axis": {"orient": "bottom", "offset": -59, "domain": false, "ticks": false, "labelAngle": -40, "labelFontSize": 11.5, "labelPadding": 2, "labelOffset": 3, "title": null}},
            "y": {"datum": 0, "type": "quantitative", "scale": {"domain": [0, 80], "range": [491, 425]}, "axis": null}
          }
        }
      ],
      "resolve": {"scale": {"y": "independent"}, "axis": {"x": "independent"}}
    }
  ],
  "resolve": {
    "scale": {"x": "independent", "y": "independent", "xOffset": "independent", "size": "independent", "fill": "independent", "stroke": "independent", "strokeDash": "independent", "opacity": "independent"}
  }
}
